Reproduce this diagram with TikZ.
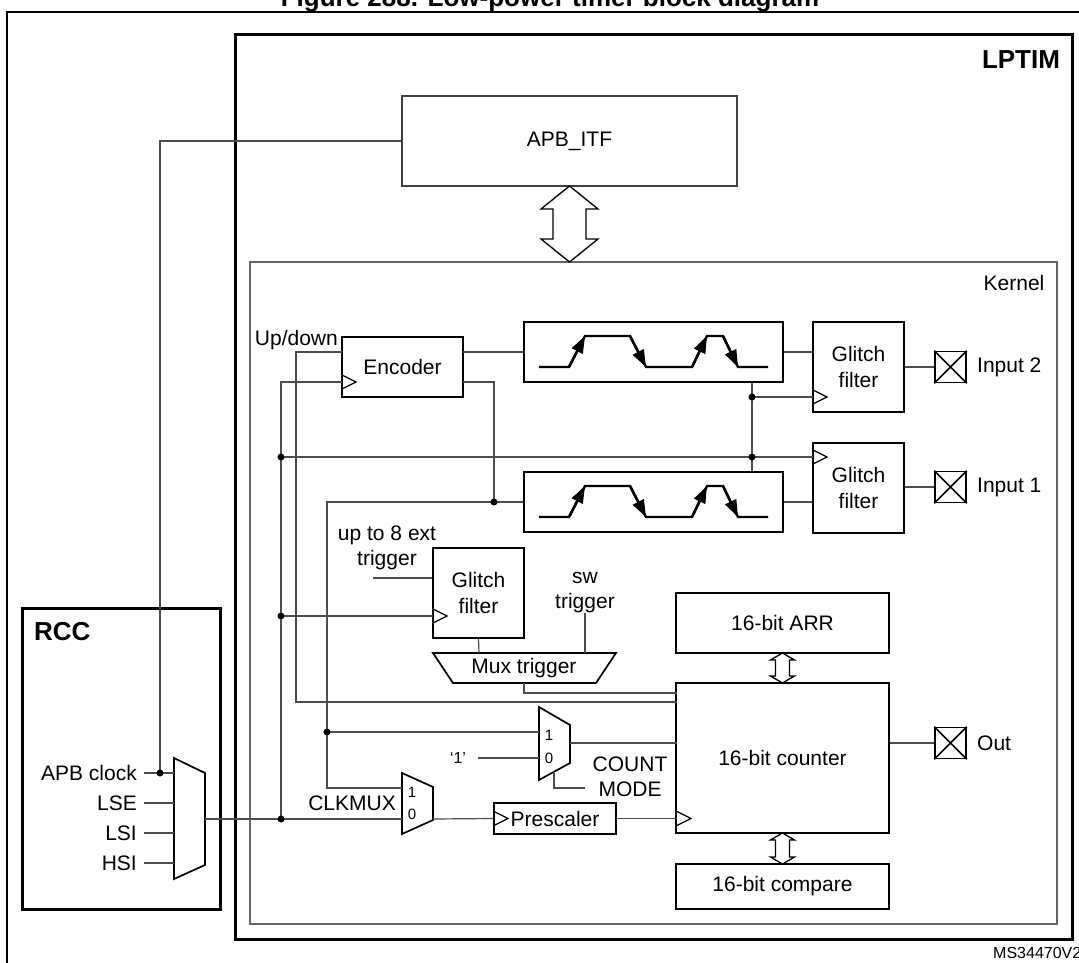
\documentclass[tikz,border=0pt]{standalone}
\usepackage{fontspec}
\setmainfont{Liberation Sans}
\usetikzlibrary{arrows.meta}

\begin{document}
\begin{tikzpicture}[x=1pt,y=-1pt,
	blk/.style={draw,line width=1.7pt,inner sep=0pt,align=center,font=\fontsize{21}{26}\selectfont},
	txt/.style={inner sep=0pt,align=center,font=\fontsize{21}{25}\selectfont},
	sml/.style={inner sep=0pt,font=\fontsize{15}{17}\selectfont},
	ttl/.style={inner sep=0pt,font=\bfseries\fontsize{26}{30}\selectfont},
	wire/.style={draw=black!70,line width=1.2pt},
	pad/.style={draw,line width=1.7pt,minimum size=31pt,inner sep=0pt},
	shp/.style={draw,line width=1.7pt}]
	% 固定画布大小
	\useasboundingbox (0,0) rectangle (1079,963);
	
	% 标题(上半部分被裁掉)
	\node[ttl,anchor=base] (title) at (550,7) {Figure 288. Low-power timer block diagram};
	
	% 外框、LPTIM 框、Kernel 框、RCC 框
	\draw[line width=2pt] (1090,12) -- (7,12) -- (7,975);
	\draw[line width=3pt] (235,35) rectangle (1072,939);
	\draw[draw=black!60,line width=1.3pt] (250,262) rectangle (1057,924);
	\draw[line width=3pt] (22,608) rectangle (220,909);
	\node[ttl] (lptim) at (1021,60) {LPTIM};
	\node[txt] (kern) at (1014,283) {Kernel};
	\node[ttl,anchor=west] (rcc) at (34,632) {RCC};
	\node[inner sep=0pt,anchor=west,font=\fontsize{16}{18}\selectfont] (ms) at (993,953) {MS34470V2};
	
	% 各功能方块
	\node[blk,draw=black!75,line width=1.3pt,minimum width=335pt,minimum height=90pt] (apb) at (569.5,141) {APB\_ITF};
	\node[blk,minimum width=121pt,minimum height=60pt] (enc) at (402.5,367) {Encoder};
	\node[blk,line width=2pt,minimum width=259pt,minimum height=60pt] (edge2) at (653.5,352) {};
	\node[blk,line width=2pt,minimum width=259pt,minimum height=60pt] (edge1) at (653.5,502) {};
	\node[blk,minimum width=91pt,minimum height=90pt] (gf2) at (858.5,367) {Glitch\\filter};
	\node[blk,minimum width=91pt,minimum height=90pt] (gf1) at (858.5,488) {Glitch\\filter};
	\node[blk,minimum width=91pt,minimum height=90pt] (gft) at (478.5,593) {Glitch\\filter};
	\node[blk,minimum width=213pt,minimum height=60pt] (arr) at (782.5,623) {16-bit ARR};
	\node[blk,minimum width=213pt,minimum height=150pt] (cnt) at (782.5,758) {16-bit counter};
	\node[blk,minimum width=213pt,minimum height=45pt] (cmp) at (782.5,886.5) {16-bit compare};
	\node[blk,minimum width=122pt,minimum height=31pt] (psc) at (555,818.5) {Prescaler};
	
	% 引脚方块(带叉)
	\node[pad] (in2) at (950.5,367) {};
	\node[pad] (in1) at (950.5,487) {};
	\node[pad] (out) at (950.5,743) {};
	\foreach \p in {in1,in2,out}
		\draw[line width=1.7pt] (\p.north west) -- (\p.south east) (\p.north east) -- (\p.south west);
	\node[txt,anchor=west] (lin2) at (977,367) {Input 2};
	\node[txt,anchor=west] (lin1) at (977,487) {Input 1};
	\node[txt,anchor=west] (lout) at (977,743) {Out};
	
	% 多路选择器(梯形)
	\draw[shp] (174,758) -- (205,773) -- (205,865) -- (174,879) -- cycle; % RCC 时钟选择
	\draw[shp] (402,773) -- (433,787) -- (433,820) -- (402,834) -- cycle; % CLKMUX
	\draw[shp] (539,707) -- (570,725) -- (570,763) -- (539,780) -- cycle; % COUNT MODE
	\draw[shp] (433,653) -- (616,653) -- (596,683) -- (453,683) -- cycle; % Mux trigger
	\node[txt] (mux) at (524,668) {Mux trigger};
	\node[sml] (k1) at (412,792) {1};
	\node[sml] (k0) at (412,814) {0};
	\node[sml] (m1) at (549,735) {1};
	\node[sml] (m0) at (549,758) {0};
	
	% 其余文字
	\node[txt,anchor=base east] (lud) at (338,345) {Up/down};
	\node[txt] (lext) at (387,548) {up to 8 ext\\trigger};
	\node[txt] (lsw) at (585,592.5) {sw\\trigger};
	\node[txt] (lcm) at (630,776.5) {COUNT\\MODE};
	\node[txt,anchor=east] (lclk) at (396,803) {CLKMUX};
	\node[sml,font=\fontsize{16}{18}\selectfont] (lone) at (458,758) {‘1’};
	\foreach \y/\t/\n in {773/APB clock/ia,803/LSE/ib,833/LSI/ic,863/HSI/id}
		\node[txt,anchor=east] (\n) at (137,\y) {\t};
	
	% 连线端点
	\coordinate (apbdot) at (160,773);
	\coordinate (rmL) at (174,800);
	\coordinate (rmo) at (205,819);
	\coordinate (ck0) at (281,819);
	\coordinate (ck1) at (281,457);
	\coordinate (ck2) at (281,616);
	\coordinate (encclk) at (342,382);
	\coordinate (encud) at (342,352);
	\coordinate (udc) at (296,702);
	\coordinate (cntud) at (677,702);
	\coordinate (encq) at (463,352);
	\coordinate (encp) at (463,382);
	\coordinate (e1dot) at (494,502);
	\coordinate (xk) at (327,788);
	\coordinate (cm1) at (402,788);
	\coordinate (cm0) at (402,819);
	\coordinate (cko) at (433,819);
	\coordinate (cmdot) at (327,732);
	\coordinate (cmi1) at (539,732);
	\coordinate (cmi0) at (539,758);
	\coordinate (cmsel) at (554,772);
	\coordinate (cmsl) at (585,788);
	\coordinate (cmo) at (570,743);
	\coordinate (cntm) at (677,743);
	\coordinate (sdot1) at (752,457);
	\coordinate (sdot2) at (752,397);
	\coordinate (gf1clk) at (813,457);
	\coordinate (gf2clk) at (813,397);
	\coordinate (gftclk) at (433,616);
	\coordinate (extin) at (373,578);
	\coordinate (mt1) at (479,653);
	\coordinate (mb) at (524,683);
	\coordinate (cntt) at (677,693);
	\coordinate (pscclk) at (494,818.5);
	\coordinate (cntclk) at (677,818.5);
	
	% 连线
	\draw[wire] (apb.west) -| (apbdot);
	\foreach \n in {ia,ib,ic,id}
		\draw[wire] ([xshift=7pt]\n.east) -- (\n.east -| rmL);
	\draw[wire] (rmo) -- (cm0);
	\draw[wire] (ck0) |- (encclk);
	\draw[wire] (ck1) -- (gf1clk);
	\draw[wire] (ck2) -- (gftclk);
	\draw[wire] (encud) -| (udc) -- (cntud);
	\draw[wire] (encq) -- (edge2.west);
	\draw[wire] (encp) -| (e1dot);
	\draw[wire] (edge1.west) -| (xk) -- (cm1);
	\draw[wire] (cmdot) -- (cmi1);
	\draw[wire] ([xshift=12pt]lone.east) -- (cmi0);
	\draw[wire] (cmsel) |- (cmsl);
	\draw[wire] (cmo) -- (cntm);
	\draw[wire] (edge2.east) -- (edge2.east -| gf2.west);
	\draw[wire] (edge2.south -| sdot1) -- (edge1.north -| sdot1);
	\draw[wire] (sdot2) -- (gf2clk);
	\draw[wire] (edge1.east) -- (edge1.east -| gf1.west);
	\draw[wire] (gf2.east) -- (in2.west);
	\draw[wire] (in1.west -| gf1.east) -- (in1.west);
	\draw[wire] (out.west -| cnt.east) -- (out.west);
	\draw[wire] (gft.south) -- (mt1);
	\draw[wire] (lsw.south) -- (lsw.south |- mt1);
	\draw[wire] (extin) -- (extin -| gft.west);
	\draw[wire] (mb) |- (cntt);
	\draw[wire] (cko) -- (psc.west);
	\draw[wire] (psc.east) -- (cntclk);
	
	% 连接点
	\foreach \d in {apbdot,ck0,ck1,ck2,sdot1,sdot2,e1dot,cmdot}
		\fill (\d) circle[radius=3.5pt];
	
	% 时钟输入三角
	\foreach \c in {encclk,gf2clk,gf1clk,gftclk,pscclk,cntclk}
		\draw[line width=1.3pt] (\c) ++(0,-7) -- ++(14,7) -- ++(-14,7);
	
	% 双向箭头:中心 x,上端,下端,箭头长,箭头半宽,箭杆半宽
	\foreach \cx/\ta/\tb/\hl/\hw/\sw in {569.5/186/262/23/28.5/16.5,782.5/653/683/7/12/7,782.5/833/864/7/12/7}
		\draw[line width=1.3pt,fill=white] (\cx,\ta) -- ({\cx+\hw},{\ta+\hl}) -- ({\cx+\sw},{\ta+\hl}) -- ({\cx+\sw},{\tb-\hl}) -- ({\cx+\hw},{\tb-\hl}) -- (\cx,\tb) -- ({\cx-\hw},{\tb-\hl}) -- ({\cx-\sw},{\tb-\hl}) -- ({\cx-\sw},{\ta+\hl}) -- ({\cx-\hw},{\ta+\hl}) -- cycle;
	
	% 边沿检测波形
	\foreach \dy in {0,150} {
		\pgfmathsetmacro{\lo}{367+\dy} % 低电平
		\pgfmathsetmacro{\hi}{336+\dy} % 高电平
		\draw[line width=2.4pt] (539,\lo) -- (569,\lo) -- (585,\hi) -- (630,\hi) -- (646,\lo) -- (692,\lo) -- (707,\hi) -- (723,\hi) -- (738,\lo) -- (768,\lo);
		\draw[line width=2.4pt,-{Triangle[length=17pt,width=12pt]}] (569,\lo) -- (585,\hi);
		\draw[line width=2.4pt,-{Triangle[length=17pt,width=12pt]}] (630,\hi) -- (646,\lo);
		\draw[line width=2.4pt,-{Triangle[length=17pt,width=12pt]}] (692,\lo) -- (707,\hi);
		\draw[line width=2.4pt,-{Triangle[length=17pt,width=12pt]}] (723,\hi) -- (738,\lo);
	}
	
\end{tikzpicture}
\end{document}
